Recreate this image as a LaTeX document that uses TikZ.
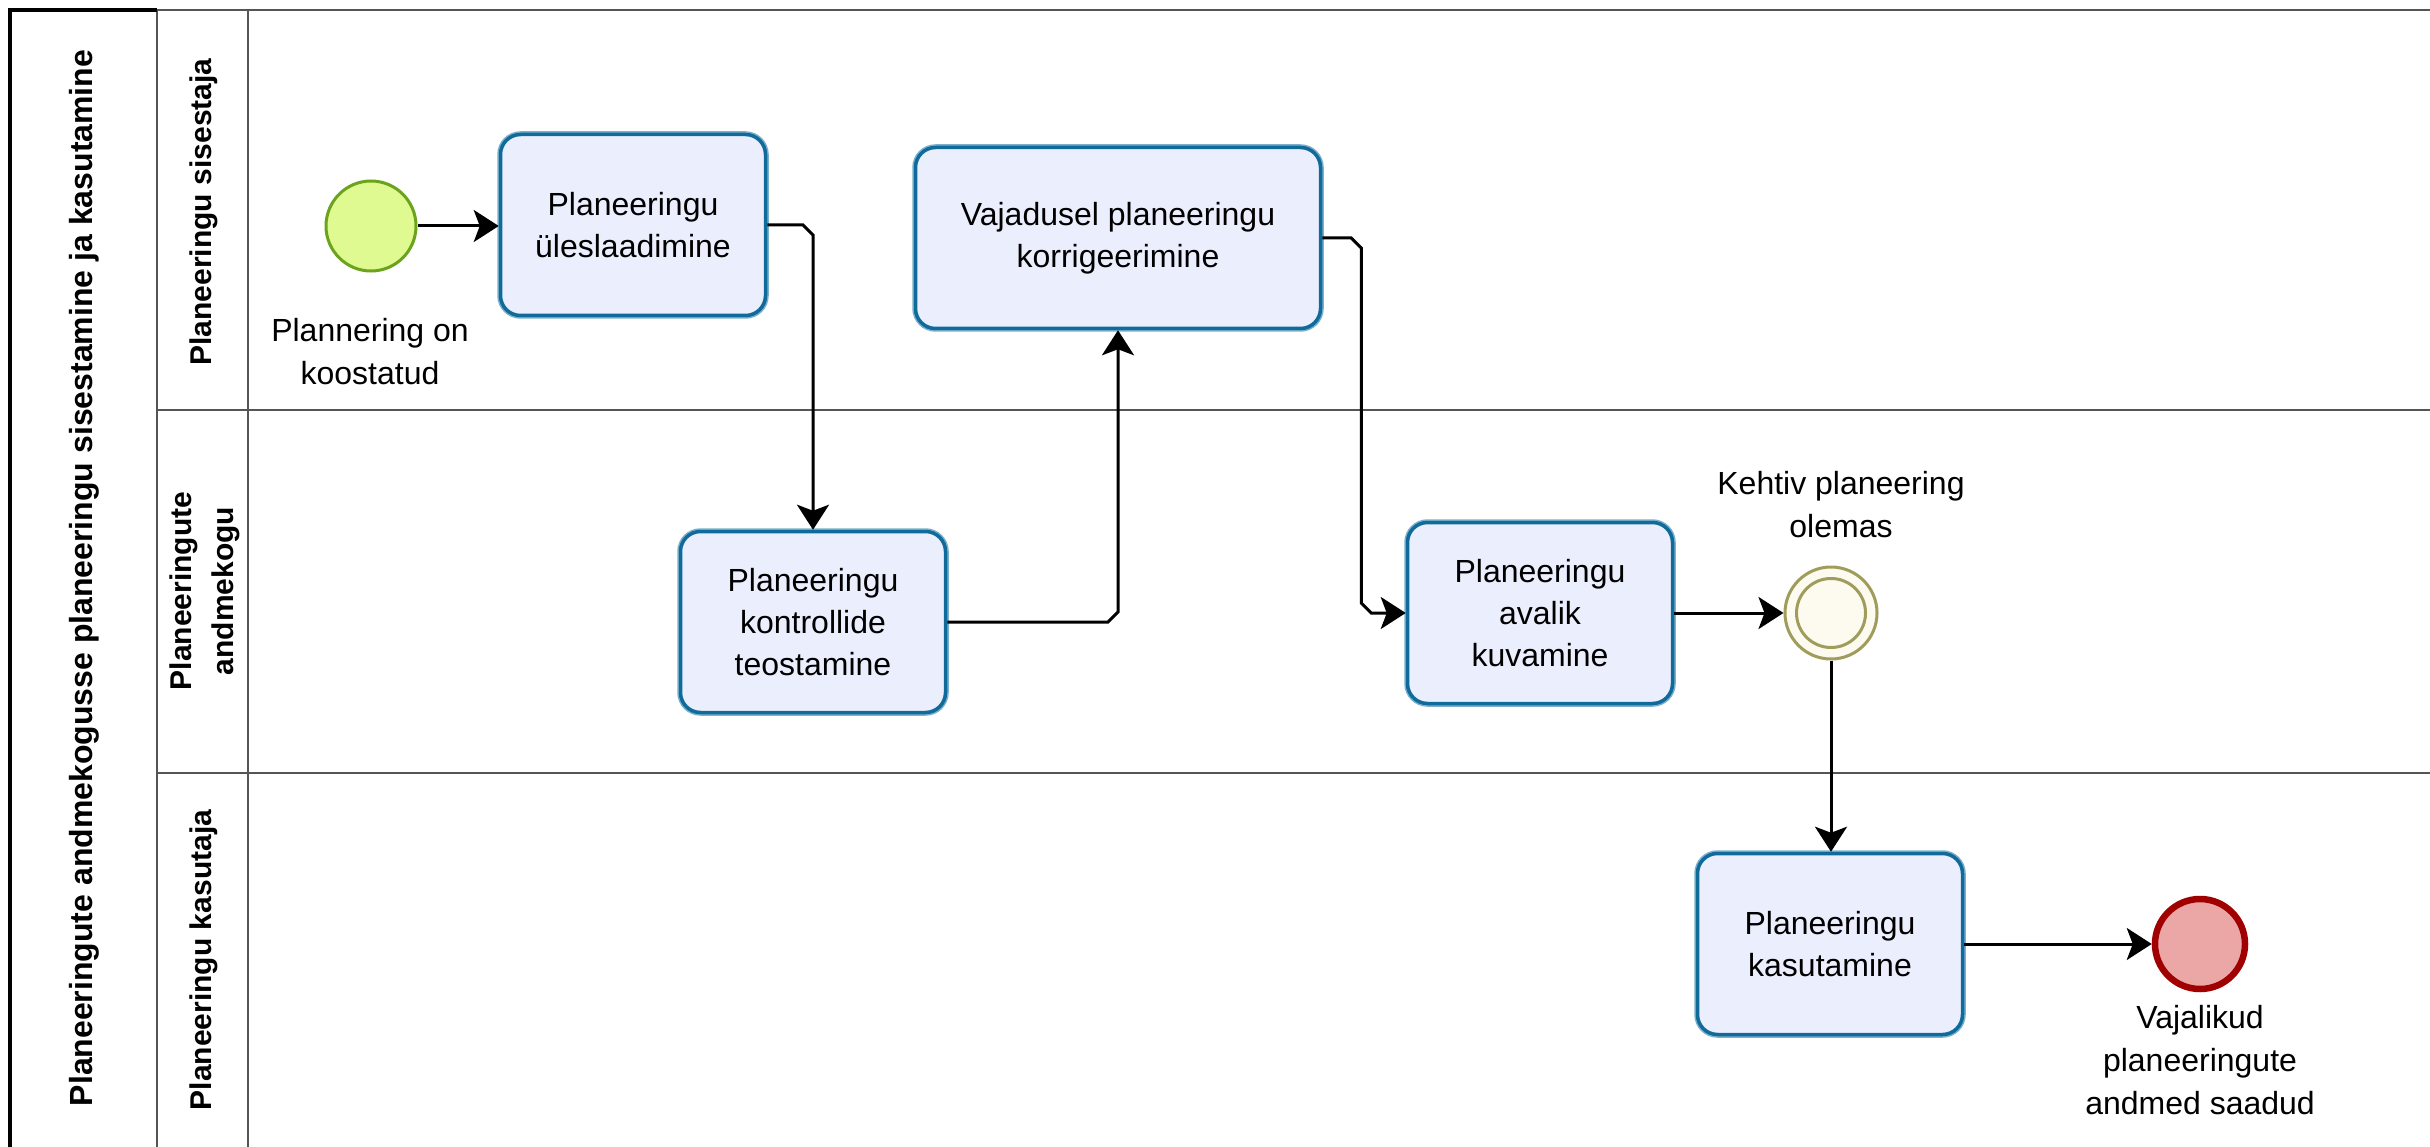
\documentclass[tikz,border=0pt]{standalone}
\usepackage{fontspec}
\setmainfont{Liberation Sans}
\usetikzlibrary{arrows.meta,calc}
\definecolor{taskfill}{RGB}{235,239,253}
\definecolor{taskdark}{RGB}{16,106,154}
\definecolor{tasklight}{RGB}{122,176,204}
\definecolor{startfill}{RGB}{224,250,146}
\definecolor{startdraw}{RGB}{107,164,28}
\definecolor{midfill}{RGB}{253,251,240}
\definecolor{middraw}{RGB}{160,156,92}
\definecolor{endfill}{RGB}{235,166,166}
\definecolor{enddraw}{RGB}{160,0,0}
\definecolor{lanegray}{RGB}{85,85,85}
\begin{document}
\begin{tikzpicture}[x=1pt,y=-1pt,
  task/.style={rectangle, rounded corners=20pt, fill=taskfill, draw=taskdark,
    line width=3.5pt, preaction={draw=tasklight, line width=6.5pt},
    minimum width=265pt, minimum height=181pt, align=center, inner sep=0pt,
    font=\fontsize{32}{42}\selectfont},
  startev/.style={circle, fill=startfill, draw=startdraw, line width=3pt, minimum size=90pt, inner sep=0pt},
  midev/.style={circle, fill=midfill, draw=middraw, line width=3pt, minimum size=92pt, inner sep=0pt},
  endev/.style={circle, fill=endfill, draw=enddraw, line width=6.5pt, minimum size=90pt, inner sep=0pt},
  evlabel/.style={align=center, inner sep=0pt, font=\fontsize{32}{43}\selectfont},
  lanehead/.style={rotate=90, align=center, inner sep=0pt, font=\fontsize{30}{42}\selectfont\bfseries},
  poolhead/.style={rotate=90, align=center, inner sep=0pt, font=\fontsize{32}{42}\selectfont\bfseries},
  flow/.style={draw=black, line width=3pt, -{Stealth[length=25pt, width=32pt, inset=6pt]}},
  laneline/.style={draw=lanegray, line width=2.5pt}
]
\useasboundingbox (0,0) rectangle (2430,1147);
\fill[white] (0,0) rectangle (2430,1147);

% pool and lanes
\draw[laneline] (157,10) -- (2430,10);
\draw[laneline] (157,10) -- (157,1147);
\draw[laneline] (248,10) -- (248,1147);
\draw[laneline] (157,410) -- (2430,410);
\draw[laneline] (157,773) -- (2430,773);
\draw[black, line width=3.5pt] (10,1147) -- (10,10) -- (157,10);

\node[poolhead] (pool) at (84,578) {Planeeringute andmekogusse planeeringu sisestamine ja kasutamine};
\node[lanehead] (lane1) at (204,212) {Planeeringu sisestaja};
\node[lanehead] (lane2) at (205,591) {Planeeringute\\andmekogu};
\node[lanehead] (lane3) at (204,960) {Planeeringu kasutaja};

% events
\node[startev] (start) at (371,226) {};
\node[evlabel] (startlbl) at (370,352) {Plannering on\\koostatud};
\node[midev] (ev) at (1831,613) {};
\draw[middraw, line width=3pt] (ev.center) circle (34.5pt);
\node[evlabel] (evlbl) at (1841,505) {Kehtiv planeering\\olemas};
\node[endev] (endev) at (2200,944) {};
\node[evlabel] (endlbl) at (2200,1060) {Vajalikud\\planeeringute\\andmed saadud};

% tasks
\node[task] (t1) at (633,225) {Planeeringu\\üleslaadimine};
\node[task, minimum width=405pt] (t2) at (1118,238) {Vajadusel planeeringu\\korrigeerimine};
\node[task] (t3) at (813,622) {Planeeringu\\kontrollide\\teostamine};
\node[task] (t4) at (1540,613) {Planeeringu\\avalik\\kuvamine};
\node[task] (t5) at (1830,944) {Planeeringu\\kasutamine};

% flows
\draw[flow] (start.east) -- (start.east -| t1.west);
\draw[flow] (t1.east) -- ($(t1.east -| t3.north)+(-10,0)$) -- ($(t1.east -| t3.north)+(0,10)$) -- (t3.north);
\draw[flow] (t3.east) -- ($(t3.east -| t2.south)+(-10,0)$) -- ($(t3.east -| t2.south)+(0,-10)$) -- (t2.south);
\coordinate (c2) at ($(t2.east)+(39,0)$);
\draw[flow] (t2.east) -- ($(c2)+(-10,0)$) -- ($(c2)+(0,10)$) -- ($(c2 |- t4.west)+(0,-10)$) -- ($(c2 |- t4.west)+(10,0)$) -- (t4.west);
\draw[flow] (t4.east) -- (ev.west);
\draw[flow] (ev.south) -- (ev.south |- t5.north);
\draw[flow] (t5.east) -- (endev.west);
\end{tikzpicture}
\end{document}
